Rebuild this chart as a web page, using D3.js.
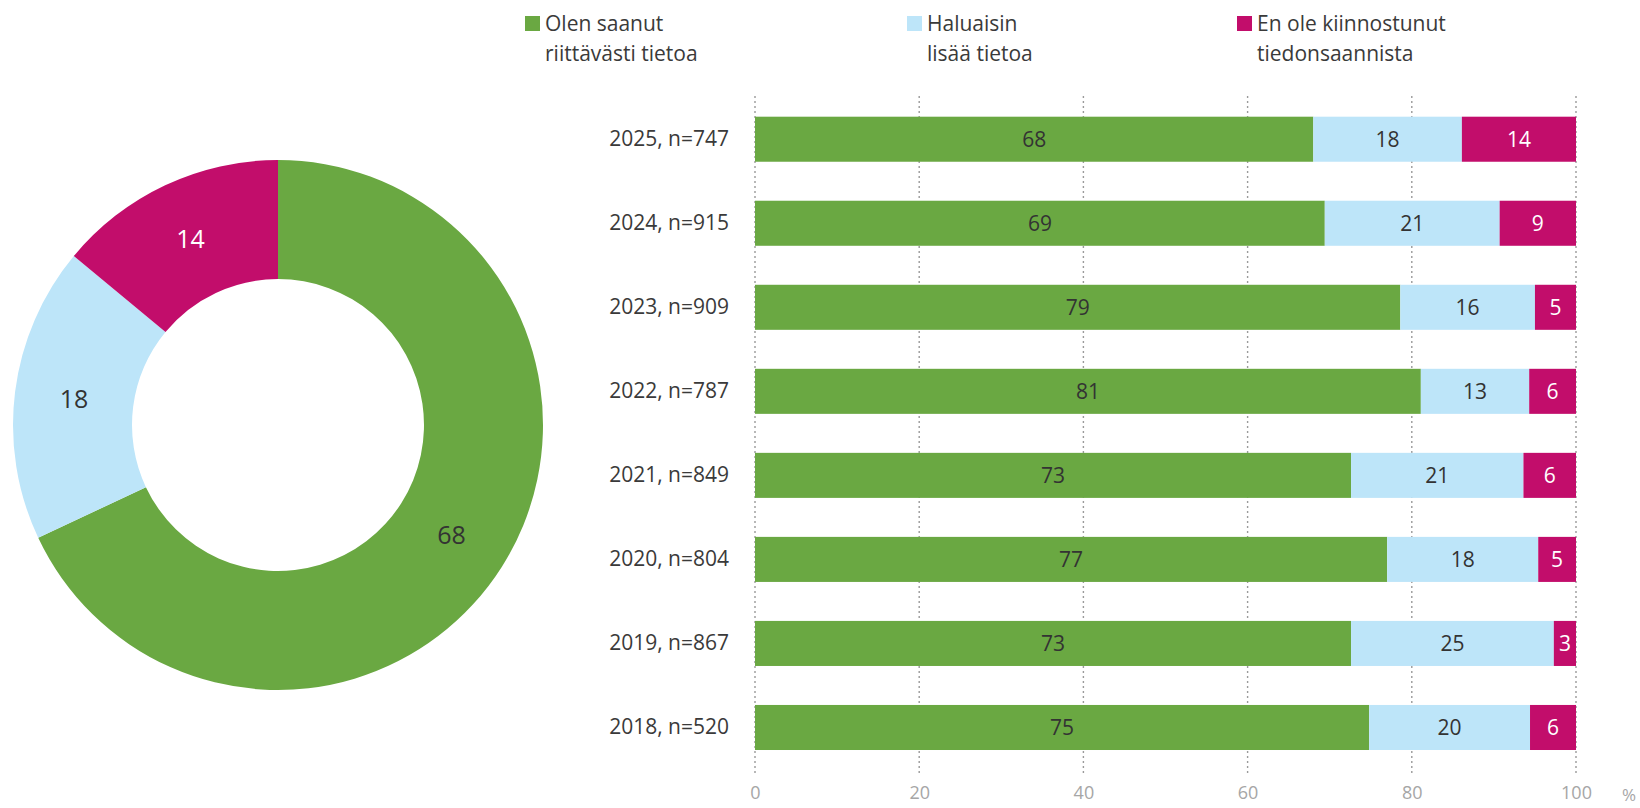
<!DOCTYPE html>
<html>
<head>
<meta charset="utf-8">
<script src="https://cdn.jsdelivr.net/npm/d3@7/dist/d3.min.js"></script>
<style>
  html, body { margin: 0; padding: 0; background: #fff; }
  svg { display: block; font-family: "Open Sans", "Noto Sans", sans-serif; }
</style>
</head>
<body>
<svg id="chart" width="1640" height="808"></svg>
<script>
// ---- data ----
const seriesNames = ["Olen saanut riittävästi tietoa", "Haluaisin lisää tietoa", "En ole kiinnostunut tiedonsaannista"];
const legendLines = [["Olen saanut", "riittävästi tietoa"], ["Haluaisin", "lisää tietoa"], ["En ole kiinnostunut", "tiedonsaannista"]];
const categories = ["2025, n=747", "2024, n=915", "2023, n=909", "2022, n=787", "2021, n=849", "2020, n=804", "2019, n=867", "2018, n=520"];
const received      = [68.0, 69.4, 78.6, 81.1, 72.6, 77.0, 72.6, 74.8];
const wantMore      = [18.1, 21.3, 16.4, 13.2, 21.0, 18.4, 24.7, 19.6];
const notInterested = [13.9, 9.3, 5.0, 5.7, 6.4, 4.6, 2.7, 5.6];
const donutValues   = [68, 18, 14];
const xTicks = [0, 20, 40, 60, 80, 100];
const colors = ["#6aa842", "#bde5f9", "#c20d6b"];
const labelColors = ["#333333", "#333333", "#ffffff"];

const svg = d3.select("#chart");

// ---- donut ----
const cx = 278, cy = 425, outerR = 265, innerR = 146;
const pie = d3.pie().sort(null).value(d => d);
const arc = d3.arc().innerRadius(innerR).outerRadius(outerR);
const labelArc = d3.arc().innerRadius((innerR + outerR) / 2).outerRadius((innerR + outerR) / 2);
const dg = svg.append("g").attr("transform", `translate(${cx},${cy})`);
const arcs = pie(donutValues);
dg.selectAll("path").data(arcs).enter().append("path")
  .attr("d", arc).attr("fill", (d, i) => colors[i]);
dg.selectAll("text").data(arcs).enter().append("text")
  .attr("transform", d => `translate(${labelArc.centroid(d)})`)
  .attr("text-anchor", "middle").attr("dy", "0.35em")
  .attr("font-size", 25).attr("fill", (d, i) => labelColors[i])
  .text(d => d3.format("d")(d.data));

// ---- stacked bars ----
const x = d3.scaleLinear().domain([0, 100]).range([755, 1576]);
const y = d3.scaleBand().domain(categories).range([97.2, 769.5]).paddingInner(0.464).paddingOuter(0.232);

// grid
const grid = svg.append("g");
grid.selectAll("line").data(xTicks).enter().append("line")
  .attr("x1", d => x(d)).attr("x2", d => x(d))
  .attr("y1", 96).attr("y2", 776)
  .attr("stroke", "#9a9a9a").attr("stroke-width", 1.4)
  .attr("stroke-dasharray", "2,3");

const rows = categories.map((c, i) => ({ cat: c, vals: [received[i], wantMore[i], notInterested[i]] }));
const stackData = rows.map(r => ({ cat: r.cat, s0: r.vals[0], s1: r.vals[1], s2: r.vals[2] }));
const stack = d3.stack().keys(["s0", "s1", "s2"]);
const layers = stack(stackData);

const bars = svg.append("g");
layers.forEach((layer, li) => {
  const g = bars.append("g");
  g.selectAll("rect").data(layer).enter().append("rect")
    .attr("x", d => x(d[0])).attr("width", d => x(d[1]) - x(d[0]))
    .attr("y", d => y(d.data.cat)).attr("height", y.bandwidth())
    .attr("fill", colors[li]);
  g.selectAll("text").data(layer).enter().append("text")
    .attr("x", d => (x(d[0]) + x(d[1])) / 2)
    .attr("y", d => y(d.data.cat) + y.bandwidth() / 2)
    .attr("dy", "0.35em").attr("text-anchor", "middle")
    .attr("font-size", 21).attr("fill", labelColors[li])
    .text(d => Math.round(d[1] - d[0]));
});

// y axis labels
const yAxis = d3.axisLeft(y).tickSize(0).tickPadding(0);
const yg = svg.append("g").attr("transform", "translate(729,0)").call(yAxis);
yg.select(".domain").remove();
yg.selectAll("text").attr("font-size", 21).attr("fill", "#3a3a3a")
  .attr("font-family", "'Open Sans', sans-serif");

// x axis
const xAxis = d3.axisBottom(x).tickValues(xTicks).tickSize(0).tickPadding(0).tickFormat(d3.format("d"));
const xg = svg.append("g").attr("transform", "translate(0,786)").call(xAxis);
xg.select(".domain").remove();
xg.selectAll("text").attr("font-size", 18).attr("fill", "#a6a6a6")
  .attr("font-family", "'Open Sans', sans-serif");
svg.append("text").attr("x", 1622).attr("y", 795).attr("dy", "0.35em")
  .attr("font-size", 17).attr("fill", "#a6a6a6").text("%");

// ---- legend ----
const legendX = [525, 907, 1237];
const lg = svg.append("g");
legendLines.forEach((lines, i) => {
  const g = lg.append("g").attr("transform", `translate(${legendX[i]},0)`);
  g.append("rect").attr("x", 0).attr("y", 16).attr("width", 15).attr("height", 15).attr("fill", colors[i]);
  lines.forEach((t, j) => {
    g.append("text").attr("x", 20).attr("y", 24 + j * 29.5).attr("dy", "0.35em")
      .attr("font-size", 21).attr("fill", "#3a3a3a").text(t);
  });
});
</script>
</body>
</html>
